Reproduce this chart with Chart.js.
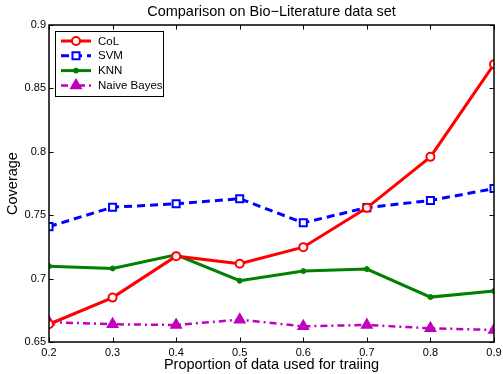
<!DOCTYPE html>
<html>
<head>
<meta charset="utf-8">
<script src="https://cdn.jsdelivr.net/npm/chart.js@4.4.1/dist/chart.umd.min.js"></script>
<style>
  html, body { margin: 0; padding: 0; background: #fff; }
  #wrap { width: 503px; height: 374px; }
</style>
</head>
<body>
<div id="wrap"><canvas id="myChart" width="503" height="374"></canvas></div>
<script>
  const proportions = [0.2, 0.3, 0.4, 0.5, 0.6, 0.7, 0.8, 0.9];
  const colValues = [0.664, 0.685, 0.7177, 0.7117, 0.7248, 0.7558, 0.796, 0.869];
  const svmValues = [0.741, 0.7563, 0.759, 0.763, 0.744, 0.756, 0.7616, 0.771];
  const knnValues = [0.7098, 0.708, 0.7188, 0.6983, 0.7059, 0.7075, 0.6854, 0.6902];
  const nbValues = [0.6657, 0.664, 0.6634, 0.6676, 0.6624, 0.6634, 0.6608, 0.6595];
  const xTicks = [0.2, 0.3, 0.4, 0.5, 0.6, 0.7, 0.8, 0.9];
  const yTicks = [0.65, 0.7, 0.75, 0.8, 0.85, 0.9];
  const titleText = "Comparison on Bio\u2212Literature data set";

  const FONT = "'Liberation Sans', Arial, Helvetica, sans-serif";
  const toPoints = (vals) => vals.map((v, i) => ({ x: proportions[i], y: v }));

  // matlab style box, inward ticks, title and legend
  const matlabBox = {
    id: "matlabBox",
    afterDatasetsDraw(chart) {
      const { ctx, chartArea: a, scales } = chart;
      const tick = 4.5;
      ctx.save();
      ctx.strokeStyle = "#000";
      ctx.lineWidth = 1;
      ctx.beginPath();
      xTicks.forEach((t) => {
        const x = Math.round(scales.x.getPixelForValue(t)) + 0.5;
        ctx.moveTo(x, a.bottom);
        ctx.lineTo(x, a.bottom - tick);
        ctx.moveTo(x, a.top);
        ctx.lineTo(x, a.top + tick);
      });
      yTicks.forEach((t) => {
        const y = Math.round(scales.y.getPixelForValue(t)) + 0.5;
        ctx.moveTo(a.left, y);
        ctx.lineTo(a.left + tick, y);
        ctx.moveTo(a.right, y);
        ctx.lineTo(a.right - tick, y);
      });
      ctx.stroke();
      ctx.lineWidth = 1.5;
      ctx.strokeRect(a.left, a.top, a.right - a.left, a.bottom - a.top);

      // title, centred over the axes
      ctx.fillStyle = "#000";
      ctx.font = "14.5px " + FONT;
      ctx.textAlign = "center";
      ctx.textBaseline = "middle";
      ctx.fillText(titleText, (a.left + a.right) / 2, 12);

      // legend
      const lx = 55, ly = 31, lw = 108, lh = 65;
      ctx.fillStyle = "#fff";
      ctx.fillRect(lx, ly, lw, lh);
      ctx.lineWidth = 1;
      ctx.strokeStyle = "#000";
      ctx.strokeRect(lx + 0.5, ly + 0.5, lw, lh);
      chart.data.datasets.forEach((ds, i) => {
        const y = ly + 10 + i * 14.8;
        ctx.save();
        ctx.strokeStyle = ds.borderColor;
        ctx.lineWidth = ds.borderWidth;
        ctx.setLineDash(ds.borderDash || []);
        ctx.beginPath();
        ctx.moveTo(lx + 6, y);
        ctx.lineTo(lx + 36, y);
        ctx.stroke();
        ctx.setLineDash([]);
        ctx.fillStyle = ds.pointBackgroundColor;
        ctx.strokeStyle = ds.pointBorderColor;
        ctx.lineWidth = ds.pointBorderWidth;
        Chart.helpers.drawPoint(ctx, { pointStyle: ds.pointStyle, radius: ds.pointRadius, rotation: 0, borderWidth: ds.pointBorderWidth }, lx + 21, y);
        ctx.restore();
        ctx.fillStyle = "#000";
        ctx.font = "11.5px " + FONT;
        ctx.textBaseline = "middle";
        ctx.textAlign = "left";
        ctx.fillText(ds.label, lx + 43, y + 0.5);
      });
      ctx.restore();
    },
  };

  new Chart(document.getElementById("myChart"), {
    type: "line",
    data: {
      datasets: [
        {
          label: "CoL",
          data: toPoints(colValues),
          borderColor: "#ff0000",
          borderWidth: 3,
          pointStyle: "circle",
          pointRadius: 4,
          pointBorderWidth: 2,
          pointBorderColor: "#ff0000",
          pointBackgroundColor: "#ffffff",
        },
        {
          label: "SVM",
          data: toPoints(svmValues),
          borderColor: "#0000ff",
          borderWidth: 3,
          borderDash: [8, 5],
          pointStyle: "rect",
          pointRadius: 5,
          pointBorderWidth: 2,
          pointBorderColor: "#0000ff",
          pointBackgroundColor: "#ffffff",
        },
        {
          label: "KNN",
          data: toPoints(knnValues),
          borderColor: "#008000",
          borderWidth: 3,
          pointStyle: "circle",
          pointRadius: 2.5,
          pointBorderWidth: 1,
          pointBorderColor: "#008000",
          pointBackgroundColor: "#008000",
        },
        {
          label: "Naive Bayes",
          data: toPoints(nbValues),
          borderColor: "#c000c0",
          borderWidth: 2.5,
          borderDash: [7, 4, 2, 4],
          pointStyle: "triangle",
          pointRadius: 6,
          pointBorderWidth: 1.5,
          pointBorderColor: "#c000c0",
          pointBackgroundColor: "#c000c0",
        },
      ],
    },
    options: {
      responsive: false,
      animation: false,
      layout: { padding: { top: 25, right: 9, bottom: 0, left: 0 } },
      plugins: {
        legend: { display: false },
        tooltip: { enabled: false },
        title: { display: false },
      },
      scales: {
        x: {
          type: "linear",
          min: 0.2,
          max: 0.9,
          afterFit: (s) => {
            s.height = 32;
            s.paddingLeft = 0;
            s.paddingRight = 0;
          },
          afterBuildTicks: (s) => { s.ticks = xTicks.map((v) => ({ value: v })); },
          grid: { display: false, drawTicks: false },
          border: { display: false },
          ticks: {
            color: "#000",
            padding: 4,
            maxRotation: 0,
            font: { family: FONT, size: 11 },
            callback: (v) => String(v),
          },
          title: {
            display: true,
            text: "Proportion of data used for traiing",
            color: "#000",
            font: { family: FONT, size: 14.5 },
            padding: { top: 0, bottom: 0 },
          },
        },
        y: {
          min: 0.65,
          max: 0.9,
          afterFit: (s) => {
            s.width = 49;
            s.paddingTop = 0;
            s.paddingBottom = 0;
          },
          afterBuildTicks: (s) => { s.ticks = yTicks.map((v) => ({ value: v })); },
          grid: { display: false, drawTicks: false },
          border: { display: false },
          ticks: {
            color: "#000",
            padding: 3,
            font: { family: FONT, size: 11 },
            callback: (v) => String(v),
          },
          title: {
            display: true,
            text: "Coverage",
            color: "#000",
            font: { family: FONT, size: 14.5 },
            padding: { top: 4, bottom: 0 },
          },
        },
      },
    },
    plugins: [matlabBox],
  });
</script>
</body>
</html>
